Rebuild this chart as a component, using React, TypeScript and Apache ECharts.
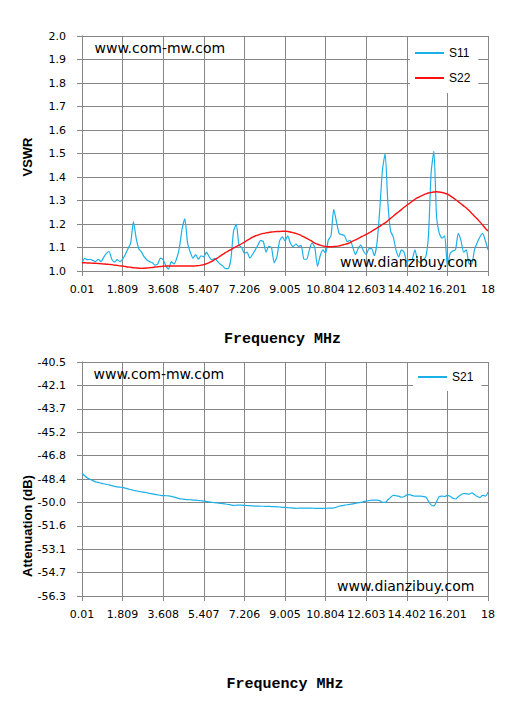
import React, { useEffect, useRef } from "react";
import * as echarts from "echarts";

// Sweep definition (VNA): 151 points from 0.01 to 18 MHz
const SWEEP_START = 0.01;
const SWEEP_STOP = 18;
const SWEEP_POINTS = 151;
const LABEL_EVERY = 15;

const X_TICK_LABELS = ["0.01", "1.809", "3.608", "5.407", "7.206", "9.005", "10.804", "12.603", "14.402", "16.201", "18"];

const S11 = [
  1.035, 1.054, 1.048, 1.05, 1.045, 1.04, 1.05, 1.04, 1.058, 1.075,
  1.083, 1.05, 1.038, 1.048, 1.04, 1.05, 1.07, 1.095, 1.12, 1.21,
  1.14, 1.095, 1.08, 1.06, 1.047, 1.04, 1.035, 1.025, 1.03, 1.055,
  1.047, 1.022, 1.008, 1.04, 1.03, 1.054, 1.1, 1.18, 1.222, 1.12,
  1.08, 1.055, 1.07, 1.05, 1.065, 1.06, 1.08, 1.06, 1.047, 1.054,
  1.042, 1.03, 1.022, 1.01, 1.01, 1.05, 1.17, 1.2, 1.11, 1.1,
  1.075, 1.08, 1.055, 1.07, 1.09, 1.11, 1.13, 1.125, 1.08, 1.105,
  1.1, 1.035, 1.06, 1.128, 1.145, 1.128, 1.15, 1.118, 1.104, 1.115,
  1.105, 1.108, 1.05, 1.05, 1.09, 1.12, 1.1, 1.02, 1.065, 1.09,
  1.075, 1.132, 1.15, 1.262, 1.21, 1.16, 1.155, 1.15, 1.125, 1.13,
  1.103, 1.07, 1.095, 1.11, 1.085, 1.07, 1.095, 1.095, 1.065, 1.12,
  1.26, 1.43, 1.5, 1.29, 1.17, 1.145, 1.09, 1.06, 1.09, 1.08,
  1.04, 1.045, 1.05, 1.09, 1.045, 1.035, 1.047, 1.06, 1.15, 1.42,
  1.51, 1.23, 1.16, 1.14, 1.15, 1.02, 1.075, 1.085, 1.09, 1.16,
  1.13, 1.08, 1.09, 1.03, 1.03, 1.09, 1.12, 1.145, 1.16, 1.13,
  1.09,
];

const S22 = [
  1.035, 1.035, 1.034, 1.034, 1.033, 1.033, 1.032, 1.031, 1.03, 1.029,
  1.028, 1.027, 1.025, 1.024, 1.022, 1.021, 1.019, 1.017, 1.016, 1.014,
  1.013, 1.012, 1.011, 1.012, 1.013, 1.014, 1.015, 1.017, 1.018, 1.019,
  1.02, 1.021, 1.021, 1.021, 1.021, 1.021, 1.021, 1.021, 1.021, 1.021,
  1.021, 1.021, 1.022, 1.023, 1.025, 1.027, 1.031, 1.036, 1.041, 1.048,
  1.055, 1.063, 1.071, 1.078, 1.085, 1.091, 1.098, 1.104, 1.11, 1.116,
  1.123, 1.13, 1.137, 1.144, 1.149, 1.153, 1.157, 1.16, 1.162, 1.164,
  1.166, 1.167, 1.168, 1.168, 1.169, 1.169, 1.168, 1.166, 1.163, 1.16,
  1.156, 1.151, 1.145, 1.139, 1.133, 1.126, 1.119, 1.114, 1.11, 1.107,
  1.104, 1.103, 1.103, 1.104, 1.105, 1.107, 1.11, 1.113, 1.116, 1.121,
  1.127, 1.132, 1.138, 1.144, 1.15, 1.156, 1.162, 1.169, 1.176, 1.183,
  1.19, 1.198, 1.205, 1.214, 1.224, 1.233, 1.243, 1.252, 1.261, 1.271,
  1.28, 1.288, 1.297, 1.305, 1.312, 1.318, 1.323, 1.328, 1.332, 1.334,
  1.336, 1.337, 1.336, 1.334, 1.331, 1.327, 1.32, 1.312, 1.304, 1.295,
  1.286, 1.277, 1.268, 1.257, 1.245, 1.233, 1.222, 1.209, 1.196, 1.182,
  1.17,
];

const S21 = [
  -48.0, -48.18, -48.33, -48.42, -48.51, -48.59, -48.63, -48.68, -48.72, -48.76,
  -48.8, -48.85, -48.9, -48.93, -48.95, -48.97, -49.02, -49.07, -49.11, -49.16,
  -49.2, -49.24, -49.27, -49.3, -49.33, -49.37, -49.4, -49.44, -49.47, -49.5,
  -49.52, -49.53, -49.54, -49.57, -49.62, -49.67, -49.72, -49.75, -49.78, -49.79,
  -49.8, -49.82, -49.83, -49.85, -49.87, -49.89, -49.92, -49.95, -49.97, -50.0,
  -50.02, -50.04, -50.06, -50.09, -50.12, -50.15, -50.18, -50.17, -50.16, -50.17,
  -50.18, -50.19, -50.2, -50.22, -50.23, -50.23, -50.24, -50.24, -50.25, -50.25,
  -50.26, -50.26, -50.28, -50.29, -50.31, -50.32, -50.33, -50.35, -50.36, -50.38,
  -50.37, -50.36, -50.36, -50.36, -50.37, -50.37, -50.38, -50.38, -50.38, -50.38,
  -50.38, -50.37, -50.37, -50.35, -50.3, -50.24, -50.2, -50.17, -50.14, -50.11,
  -50.08, -50.04, -50.01, -49.98, -49.93, -49.89, -49.86, -49.83, -49.82, -49.82,
  -49.86, -49.97, -49.98, -49.8, -49.64, -49.5, -49.53, -49.56, -49.63, -49.6,
  -49.47, -49.45, -49.52, -49.55, -49.55, -49.55, -49.58, -49.62, -49.9, -50.15,
  -50.22, -49.92, -49.58, -49.55, -49.58, -49.5, -49.57, -49.7, -49.75, -49.6,
  -49.47, -49.38, -49.4, -49.42, -49.34, -49.45, -49.58, -49.66, -49.5, -49.55,
  -49.3,
];

const FREQ = Array.from({ length: SWEEP_POINTS }, (_, i) =>
  (SWEEP_START + (i * (SWEEP_STOP - SWEEP_START)) / (SWEEP_POINTS - 1)).toFixed(4)
);

const GRID_COLOR = "#868686";
const BLUE = "#1cb0e8";
const RED = "#ff1010";
const TICK_FONT = "DejaVu Sans";

function xAxis(gridIndex: number) {
  return {
    type: "category",
    gridIndex,
    data: FREQ,
    boundaryGap: false,
    axisLine: { show: true, onZero: false, lineStyle: { color: GRID_COLOR, width: 1 } },
    axisTick: { show: true, interval: LABEL_EVERY - 1, length: 5, lineStyle: { color: GRID_COLOR } },
    axisLabel: {
      interval: LABEL_EVERY - 1,
      margin: 13,
      color: "#000",
      fontFamily: TICK_FONT,
      fontSize: 11,
      formatter: (v: string) => {
        const idx = FREQ.indexOf(v);
        return X_TICK_LABELS[Math.round(idx / LABEL_EVERY)] ?? "";
      },
    },
    splitLine: { show: true, interval: LABEL_EVERY - 1, lineStyle: { color: GRID_COLOR, width: 1 } },
  };
}

function yAxis(gridIndex: number, min: number, max: number, interval: number) {
  return {
    type: "value",
    gridIndex,
    min,
    max,
    interval,
    axisLine: { show: true, lineStyle: { color: GRID_COLOR, width: 1 } },
    axisTick: { show: true, length: 5, lineStyle: { color: GRID_COLOR } },
    axisLabel: {
      margin: 16,
      color: "#000",
      fontFamily: TICK_FONT,
      fontSize: 11,
      formatter: (v: number) => v.toFixed(1),
    },
    splitLine: { show: true, lineStyle: { color: GRID_COLOR, width: 1 } },
  };
}

function text(x: number, y: number, t: string, font: string, opts: any = {}) {
  return {
    type: "text",
    x,
    y,
    z: 100,
    rotation: opts.rotation ?? 0,
    style: {
      text: t,
      font,
      fill: "#000",
      textAlign: opts.align ?? "left",
      textVerticalAlign: "middle",
    },
  };
}

export default function App() {
  const ref = useRef<HTMLDivElement>(null);

  useEffect(() => {
    if (!ref.current) return;
    const chart = echarts.init(ref.current, null, { renderer: "svg" });
    const legendText = { fontFamily: "Liberation Sans", fontSize: 12, color: "#000" };
    chart.setOption({
      animation: false,
      backgroundColor: "#fff",
      grid: [
        { left: 82, top: 36, width: 406, height: 235 },
        { left: 82, top: 362, width: 406, height: 234 },
      ],
      xAxis: [xAxis(0), xAxis(1)],
      yAxis: [yAxis(0, 1, 2, 0.1), yAxis(1, -56.3, -40.5, 1.58)],
      legend: [
        {
          data: ["S11", "S22"],
          orient: "vertical",
          left: 410,
          top: 37,
          padding: [10, 8, 9, 4],
          itemWidth: 29,
          itemHeight: 14,
          itemGap: 13,
          backgroundColor: "#fff",
          itemStyle: { opacity: 0 },
          textStyle: legendText,
        },
        {
          data: ["S21"],
          orient: "vertical",
          left: 413,
          top: 363,
          padding: [8, 8, 8, 4],
          itemWidth: 29,
          itemHeight: 14,
          backgroundColor: "#fff",
          itemStyle: { opacity: 0 },
          textStyle: legendText,
        },
      ],
      series: [
        {
          name: "S11",
          type: "line",
          xAxisIndex: 0,
          yAxisIndex: 0,
          data: S11,
          symbol: "none",
          smooth: 0.2,
          lineStyle: { color: BLUE, width: 1.2 },
          itemStyle: { color: BLUE },
        },
        {
          name: "S22",
          type: "line",
          xAxisIndex: 0,
          yAxisIndex: 0,
          data: S22,
          symbol: "none",
          smooth: true,
          lineStyle: { color: RED, width: 1.4 },
          itemStyle: { color: RED },
        },
        {
          name: "S21",
          type: "line",
          xAxisIndex: 1,
          yAxisIndex: 1,
          data: S21,
          symbol: "none",
          smooth: 0.3,
          lineStyle: { color: BLUE, width: 1.2 },
          itemStyle: { color: BLUE },
        },
      ],
      graphic: [
        text(27, 157, "VSWR", "bold 13px 'Liberation Sans'", { rotation: Math.PI / 2, align: "center" }),
        text(27, 526, "Attenuation (dB)", "bold 13px 'Liberation Sans'", { rotation: Math.PI / 2, align: "center" }),
        text(282.5, 339, "Frequency MHz", "bold 15px 'Liberation Mono'", { align: "center" }),
        text(285, 684, "Frequency MHz", "bold 15px 'Liberation Mono'", { align: "center" }),
        text(94.5, 48, "www.com-mw.com", "14px 'DejaVu Sans'"),
        text(340, 262, "www.dianzibuy.com", "14px 'DejaVu Sans'"),
        text(93.5, 374, "www.com-mw.com", "14px 'DejaVu Sans'"),
        text(337, 586, "www.dianzibuy.com", "14px 'DejaVu Sans'"),
      ],
    });
    return () => chart.dispose();
  }, []);

  return (
    <div
      ref={ref}
      style={{ position: "absolute", left: 0, top: 0, width: 525, height: 709, background: "#fff" }}
    />
  );
}
